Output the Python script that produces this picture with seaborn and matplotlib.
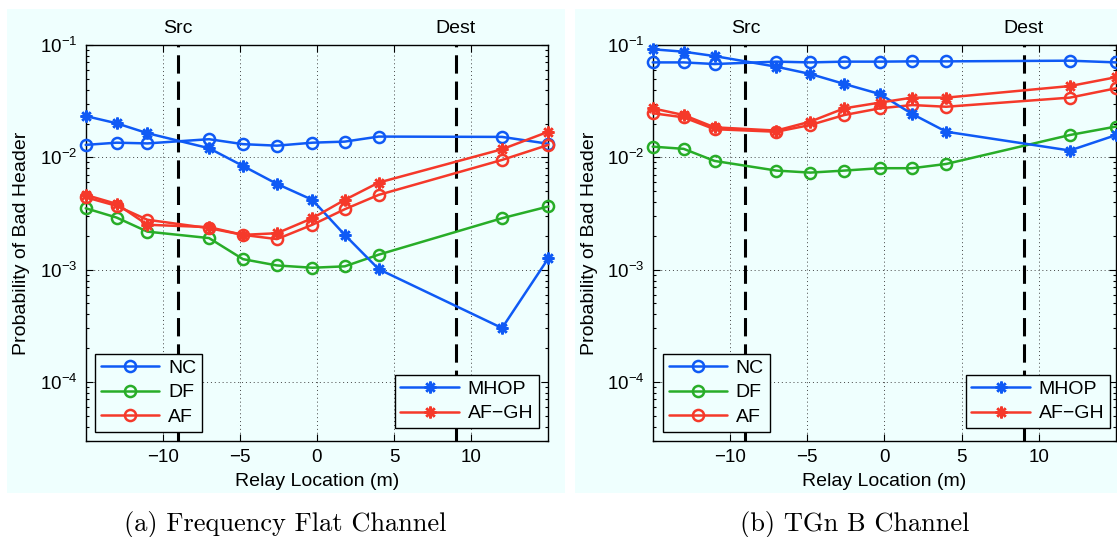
import matplotlib
matplotlib.use("Agg")
import matplotlib.pyplot as plt
from matplotlib.patches import Rectangle
from matplotlib.ticker import LogLocator, FixedLocator, NullFormatter, LogFormatterSciNotation
import seaborn as sns

# Relay positions (m) along the source-destination line
relay_pos = [-15, -13, -11, -7, -4.8, -2.6, -0.3, 1.8, 4, 12, 15]
src_pos, dest_pos = -9, 9

# Probability of bad header, frequency flat channel
flat_nc = [0.0129, 0.0135, 0.0133, 0.0145, 0.0131, 0.0127, 0.0135, 0.0138, 0.0153, 0.0152, 0.0132]
flat_df = [0.00352, 0.00291, 0.00218, 0.00191, 0.00124, 0.00109, 0.00104, 0.00107, 0.00136, 0.00287, 0.00365]
flat_af = [0.00441, 0.00370, 0.00278, 0.00234, 0.00204, 0.00187, 0.00251, 0.00345, 0.00463, 0.00948, 0.0129]
flat_mhop = [0.0233, 0.0201, 0.0164, 0.01205, 0.00838, 0.00580, 0.00418, 0.00204, 0.00101, 0.000302, 0.00126]
flat_afgh = [0.00463, 0.00385, 0.00251, 0.00239, 0.00204, 0.00211, 0.00287, 0.00418, 0.00596, 0.0118, 0.0169]

# Probability of bad header, TGn B channel
tgn_nc = [0.0700, 0.0700, 0.0677, 0.0711, 0.0700, 0.0711, 0.0711, 0.0715, 0.0715, 0.0725, 0.0700]
tgn_df = [0.01245, 0.0119, 0.00929, 0.00762, 0.00731, 0.00762, 0.0080, 0.0080, 0.00873, 0.0158, 0.0188]
tgn_af = [0.0247, 0.0227, 0.0178, 0.0169, 0.0194, 0.0238, 0.0273, 0.0292, 0.0282, 0.0340, 0.0412]
tgn_mhop = [0.0916, 0.0872, 0.0797, 0.0641, 0.0552, 0.0450, 0.0366, 0.0243, 0.0169, 0.0115, 0.0158]
tgn_afgh = [0.0273, 0.0238, 0.0185, 0.0173, 0.0208, 0.0273, 0.0307, 0.0340, 0.0340, 0.0431, 0.0517]

x_ticks = [-10, -5, 0, 5, 10]
captions = ["(a) Frequency Flat Channel", "(b) TGn B Channel"]
xlabel = "Relay Location (m)"
ylabel = "Probability of Bad Header"

BLUE, GREEN, RED = "#0f5af5", "#28ad28", "#f5392a"
PANEL = "#effffe"
ASTERISK = (8, 2, 0)

sns.set_theme(style="white")
plt.rcParams["font.family"] = ["Liberation Sans", "DejaVu Sans"]
plt.rcParams["mathtext.fontset"] = "custom"
plt.rcParams["mathtext.rm"] = "Liberation Sans"
plt.rcParams["mathtext.it"] = "Liberation Sans:italic"
plt.rcParams["text.color"] = "black"
plt.rcParams["axes.labelcolor"] = "black"
plt.rcParams["xtick.color"] = "black"
plt.rcParams["ytick.color"] = "black"

W, H = 1117, 537
fig = plt.figure(figsize=(W / 100, H / 100), dpi=100, facecolor="white")

# panel backgrounds (pixel boxes: left, top, right, bottom)
for (l, t, r, b) in [(7, 9, 565, 493), (575, 9, 1117, 493)]:
    fig.patches.append(Rectangle((l / W, 1 - b / H), (r - l) / W, (b - t) / H,
                                 transform=fig.transFigure, facecolor=PANEL,
                                 edgecolor="none", zorder=-10))

ax_boxes = [(85.7, 45, 548.3, 440.7), (652.7, 45, 1116.2, 440.7)]
ylabel_x = [22, 589]
caption_x = [285, 855]
panels = [
    (flat_nc, flat_df, flat_af, flat_mhop, flat_afgh),
    (tgn_nc, tgn_df, tgn_af, tgn_mhop, tgn_afgh),
]
legend_left_x = [(95 - 85.7) / 462.6, (662.9 - 652.7) / 463.5]
legend_right_x = [(539 - 85.7) / 462.6, (1110 - 652.7) / 463.5]

for i, (box, series) in enumerate(zip(ax_boxes, panels)):
    l, t, r, b = box
    ax = fig.add_axes([l / W, 1 - b / H, (r - l) / W, (b - t) / H])
    ax.set_zorder(1)
    ax.set_facecolor(PANEL)
    nc, df, af, mhop, afgh = series

    for xv in (src_pos, dest_pos):
        ax.axvline(xv, color="black", linewidth=2.2, linestyle=(0, (6.0, 2.6)), zorder=1.5)

    specs = [
        (nc, BLUE, "o", "NC"),
        (df, GREEN, "o", "DF"),
        (af, RED, "o", "AF"),
        (mhop, BLUE, ASTERISK, "MHOP"),
        (afgh, RED, ASTERISK, "AF\u2212GH"),
    ]
    handles = []
    for yv, color, marker, name in specs:
        sns.lineplot(x=relay_pos, y=yv, ax=ax, color=color, marker=marker,
                     markersize=8.0 if marker == "o" else 8.5,
                     markeredgecolor=color, markerfacecolor="none",
                     markeredgewidth=1.8, linewidth=1.8,
                     estimator=None, sort=False, legend=False, zorder=3)
        line = ax.lines[-1]
        line.set_clip_on(False)
        line.set_label(name)
        handles.append(line)

    ax.set_yscale("log")
    ax.set_xlim(-15, 15)
    ax.set_ylim(3e-5, 1e-1)
    ax.xaxis.set_major_locator(FixedLocator(x_ticks))
    ax.yaxis.set_major_locator(LogLocator(base=10, numticks=10))
    ax.yaxis.set_major_formatter(LogFormatterSciNotation())
    ax.yaxis.set_minor_locator(LogLocator(base=10, subs=range(2, 10), numticks=20))
    ax.yaxis.set_minor_formatter(NullFormatter())

    ax.grid(True, which="major", linestyle=(0, (1, 3)), color="#444444", linewidth=0.7)
    ax.set_axisbelow(True)
    for s in ax.spines.values():
        s.set_visible(True)
        s.set_color("black")
        s.set_linewidth(1.0)
    ax.tick_params(which="both", direction="in", top=True, right=True,
                   bottom=True, left=True, color="black", width=0.8)
    ax.tick_params(which="major", length=5, labelsize=13.5, pad=6)
    ax.tick_params(which="minor", length=2.5)

    ax.set_xlabel(xlabel, fontsize=14, va="baseline")
    ax.xaxis.set_label_coords(0.5, (b - 486.5) / (b - t))
    ax.set_ylabel(ylabel, fontsize=14, va="center", ha="center")
    ax.yaxis.set_label_coords((ylabel_x[i] - l) / (r - l), 0.5)

    for xv, name in ((src_pos, "Src"), (dest_pos, "Dest")):
        ax.text(xv, 1 + (t - 33.3) / (b - t), name, transform=ax.get_xaxis_transform(),
                ha="center", va="baseline", fontsize=14)

    leg_kw = dict(fontsize=14, frameon=True, fancybox=False, framealpha=1,
                  facecolor=PANEL, edgecolor="black", numpoints=1,
                  handlelength=3.0, handletextpad=0.45, labelspacing=0.35,
                  borderpad=0.3, borderaxespad=0)
    leg1 = ax.legend(handles=handles[:3], loc="lower left",
                     bbox_to_anchor=(legend_left_x[i], (b - 431.7) / (b - t)), **leg_kw)
    leg1.get_frame().set_linewidth(1.0)
    leg1.set_zorder(5)
    ax.add_artist(leg1)
    leg2 = ax.legend(handles=handles[3:], loc="lower right",
                     bbox_to_anchor=(legend_right_x[i], (b - 428.3) / (b - t)), **leg_kw)
    leg2.get_frame().set_linewidth(1.0)
    leg2.set_zorder(5)

    fig.text(caption_x[i] / W, 1 - 531 / H, captions[i], family="cmr10",
             fontsize=19, ha="center", va="baseline")

fig.savefig("out.png", dpi=100, facecolor="white")
